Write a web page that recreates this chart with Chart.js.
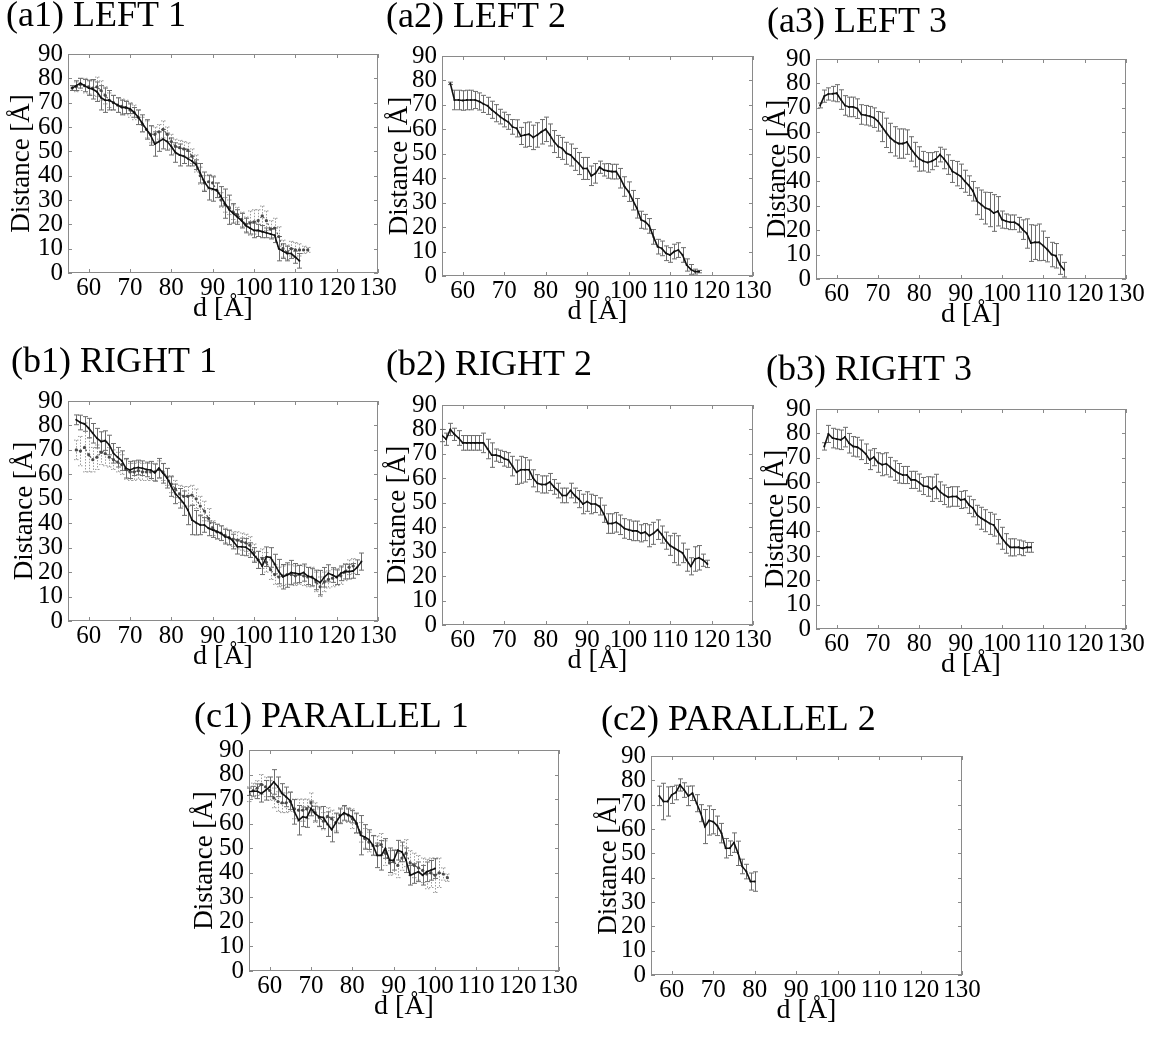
<!DOCTYPE html>
<html>
<head>
<meta charset="utf-8">
<script src="https://cdn.jsdelivr.net/npm/chart.js@4.4.1/dist/chart.umd.min.js"></script>
<style>
  body { margin: 0; background: #fff; }
  #page { position: relative; width: 1158px; height: 1037px; overflow: hidden; background: #fff; }
  #page canvas { position: absolute; }
</style>
</head>
<body>
<div id="page"></div>
<script>
// tick labels
const xTicks = [60, 70, 80, 90, 100, 110, 120, 130];
const yTicks = [0, 10, 20, 30, 40, 50, 60, 70, 80, 90];

// (a1) LEFT 1 - solid starts at d=56, dotted at d=56
const a1Solid = [76,77,78,77,76,75.5,74.5,72,71,71, 70,69,68,68,67.5,66,64,61.5,59,56.5, 53,54,55,54,52,49.5,48.5,48,47,46, 44.5,41,37.5,35,34.5,34,31.5,28.5,26,24.5, 23,21.5,19.5,18.5,17.5,17.5,17,16.5,16,15.5, 10,9,8,8,6.5,5];
const a1SolidErr = [1,2,2,2.5,3,4,4,5,5,4, 3,3,3,2.5,2,2,3,3.5,4,4, 5,4,4,3.5,3.5,4,4.5,3,3,2, 2,4,4,5,5,3,4,6,6,4, 3,3,3,2.5,3,2.5,2.5,2,2,3, 5,3,3,2,2.5,3];
const a1Dotted = [76,76.5,77.5,77,76.5,76,76.5,75,73,71, 70,69,68.5,68,67,66,64,61,59,57, 57,58,59,57,54,52,51.5,51,50.5,48, 45,40,37,37.5,37,34,30,28,27,25, 24,22,20,20.5,21,21.5,23.5,21.5,18,18.5, 15,10,8.5,10,9.5,9.5,9.5,9.5];
const a1DottedErr = [1,2,2.5,3,3,3,4,4,3.5,3, 3,3,3,3,3,3,3,3,3.5,3.5, 3,3,3.5,3,3,3,3,3,3,3, 3.5,3.5,3,3,3,3,3,3,3,3, 3,3,3,5,5,4.5,4,4,3.5,4, 4,3.5,3,3,3,2.5,1.5,1];

// (a2) LEFT 2 - starts at d=57
const a2Solid = [78.8,72,72,71.8,72,72,72,71.4,70.4,69.6, 68,66.6,65.2,64,63,61,60.4,57.3,57.7,58, 56.7,57.7,59,60,57.7,55,53,52.2,50.2,49.5, 47.7,46,44,44,41,42,44.5,43.4,43,42.7, 42.7,40,36.6,34.5,31,27.7,23,22.2,20.5,16, 12,11.3,9.3,8.6,10,10.6,8.6,4.5,2.7,1.8, 1.8];
const a2SolidErr = [0.5,4,4,4,4,4,3.5,3.5,3.5,3.5, 3.5,3.5,3,3,3,3,3.5,3.5,5,5, 5,5,5,5,4.5,4.5,4.5,4.5,4.5,4.5, 4.5,4.5,4.5,4.5,4,4,2.5,2.5,3,3, 3,4,4,4,4,4,3.5,3,3,3, 3,3,3,3,3,3,3,2.5,2,1,0.5];

// (a3) LEFT 3 - starts at d=56
const a3Solid = [71,74.8,75.7,75.8,76,73.4,71,70.4,70.4,69.7, 67.3,67,66.6,66,64.5,62.2,59.8,57.7,56.3,55.4, 55.4,56,53.2,50.9,49.1,48.2,47.7,48.2,49.1,50.9, 49.1,46.8,44,43.1,42,40,38.2,35.9,31.8,30.4, 29,28.4,27,27.7,24.3,23.6,23.2,23.2,22.2,20.2, 18.6,14.7,15,15,13.6,12,10,9.5,5.9,3.8];
const a3SolidErr = [1,2.5,2.5,3,3.5,4,4,4,4,4, 4,4,4,4,4,6,6,6,6,6, 6,5,5,5,5,4,4,3.5,3,3, 4,4,4.5,5,5,4.5,4,4,5.5,6, 6.5,7,7.5,6,3.5,3,3,3,3,4, 6,7.5,7,7.5,6,5,5,5,4,3];

// (b1) RIGHT 1 - solid starts at d=57, dotted at d=57
const b1Solid = [82.3,81.2,80.6,78.9,76.8,74.8,73.4,73.8,72,68.6, 67,65.6,62.5,61.8,62.5,62.8,62.5,62,61.8,60.7, 62.5,60.4,58.4,55,52,50.2,48.2,45.4,41.3,40.2, 39.3,39.3,37.9,37.2,36.6,35.9,34.5,34.2,32.5,30.4, 30.4,30.2,29,27,25,22.5,26.3,26,23.3,20.2, 18.1,18.8,19.8,19.5,19.2,19.8,18.4,17.9,16.8,15.7, 17.9,19.5,18.8,17.9,19.5,20.2,20.2,20.5,22,24.3];
const b1SolidErr = [2,3,3,4,4,4,4,4,4,4, 4,4,4,3.5,3,3,3,3,3.5,3.5, 4,4,4,4,4,4,5,6,6,5, 4,3,3,3,3,3,3,3,3,3, 3.5,3.5,3,3,3.5,3.5,4,4,4,5, 5,5,5,4,3.5,3.5,3.5,3.5,4,5, 4,3.5,3,3,3,3,3,3,3,3.5];
const b1Dotted = [70,69.5,71,68,66,67,69,68.5,67,66, 65,64,62,61,61,61.5,61,61,61,61, 62,61,59,56,54,52,51,51,51.5,50, 47,45,42,38,36.5,36,35,34,33.5,33, 32.5,32,31,28,25,25.5,24,21,19,18, 18.5,19,19,18.5,19,18.5,18,18,16,14, 16,17,17.5,18,18.5,20,22,22.5];
const b1DottedErr = [4,6,10,7,5,5,5,5,4,4, 4,4,4,3.5,3.5,3.5,3.5,3.5,3.5,3.5, 3.5,3.5,3.5,3.5,3.5,3.5,4,4,4,4, 4,4,4,3,3,3,3,3,3,3.5, 3.5,3.5,3.5,3.5,3.5,4,4,4,4,4, 4,4,4,4,4,4,4,4,4,4, 4,3.5,3.5,3.5,3.5,3.5,3,3];

// (b2) RIGHT 2 - starts at d=55
const b2Solid = [77.5,76,80,78,76.5,74.5,74.5,74.5,74.5,74.5, 74.5,72,69.5,69.5,69,68,67.5,65,62.5,63.5, 63.5,63.5,60,58,57.5,57.5,58.5,56.5,55,53, 53,55,53,51.5,49.5,50.5,49.5,49.5,48.5,45.5, 41.5,41.5,42,41,39.5,39,38.5,38.5,37.5,38, 36.5,37.5,39,37,34.5,32.5,31.5,30.5,29.5,26.5, 24,27,27.5,26.5,25];
const b2SolidErr = [2.5,2.5,2.5,2.5,3,3,3,3,3,3, 4,4,5,2.5,2.5,3,3,4,5,5.5, 5,4,3.5,3.5,3.5,3.5,3.5,3,3,3, 3,3,3,3.5,4,4,4,3.5,3.5,3.5, 4,4,4,4,4,4,4,4,3.5,3.5, 4.5,4.5,4,3.5,3.5,4,6,6,4,4.5, 3.5,5,5,2.5,1.5];

// (b3) RIGHT 3 - starts at d=57
const b3Solid = [74.7,79.8,78.1,77.7,77.4,78.5,76,74.7,74.4,73.3, 71.7,69.2,70.3,68.1,67.2,67.6,66.2,64.8,63.7,63, 63,61,61,59.9,58.5,58.3,57.2,58.3,56.2,54.9, 53.9,54.2,54.2,52.8,53.1,50.8,49.4,46.6,45.3,44.3, 43.2,42.5,39.8,37.1,35,33.4,33.4,33.4,33,33.4, 33.4];
const b3SolidErr = [1.5,3.5,4,4,4,4,4,4,4,4, 4,4,3.5,4,4.5,4.5,4,4,4,3.5, 3.5,3.5,3.5,3.5,3.5,4,5,5,4,4, 4,4,4,3.5,3.5,3.5,3.5,4,4.5,4.5, 4.5,4.5,5,4.5,4,3.5,3.5,3,3,2,2];

// (c1) PARALLEL 1 - solid starts at d=55, dotted at d=55
const c1Solid = [73,73.2,73.2,72.3,73.6,75,77,75,72.3,70.9, 69.3,64.8,61.4,62.8,62.5,66.2,64.1,62.8,62.5,59.8, 57.6,60.3,63,64.4,63.5,62.8,60.3,55.3,54.6,53.5, 51.2,47.1,47.1,49.9,45.1,45.1,49.2,48.5,45.1,39, 39.7,40.4,39,40.4,41,41.7];
const c1SolidErr = [1.5,2,3,3.5,4,4,5,4,4,4, 3.5,5,6,4,4,3,3,4,4.5,5, 5,4,3,3,2.5,2.5,4,8,5,4, 4,5,6,4,5,4,4,4,5,4, 4,4,4,4,4,4];
const c1Dotted = [72,73.5,74.5,76,75,73.5,70.5,69,68.5,68.5, 69,66,65.5,65.5,66,68.5,64.5,62.5,61,63, 62,60.5,63.5,64,63.5,62,60,56.5,54,52.5, 51,51,51.5,48,44,44.5,43,46,48,44, 43,42,41,39.5,40,39,40,39.5,38];
const c1DottedErr = [3,3,3,4,4,4,4,4,4,4, 4,4,4.5,4.5,4,4,4,3.5,3.5,3.5, 3.5,3.5,3,3,3,4,4,4,4,4, 4,4,4.5,5,5,5,5,5,5.5,5, 5,5,5,6,6,7,6,2.5,1.5];

// (c2) PARALLEL 2 - starts at d=57
const c2Solid = [73.6,71.3,71.3,74,75,78.1,76,73.6,74.7,70.6, 66.5,61,63.5,63,61.3,58.3,52.1,52.1,54.4,50, 44.6,42.5,38.4,38.4];
const c2SolidErr = [4,7.5,6,3.5,3,2.5,3,4,3,3.5, 3.5,7,6,5,4,4,4,3,4,5, 3,3,3.5,4];

const serif = "'Liberation Serif', 'Times New Roman', serif";
const titleSize = 36;

// panel layout: plot box [left, top, right, bottom], title x / middle, y-title centre
const panels = [
  { title: '(a1) LEFT 1', box: [68, 54, 378, 273], tx: 6, tmid: 17, ytc: 22,
    series: [{ d0: 56, v: a1Solid, e: a1SolidErr }, { d0: 56, v: a1Dotted, e: a1DottedErr, dotted: true }] },
  { title: '(a2) LEFT 2', box: [442, 56, 753, 276], tx: 386, tmid: 18, ytc: 400,
    series: [{ d0: 57, v: a2Solid, e: a2SolidErr }] },
  { title: '(a3) LEFT 3', box: [816, 59, 1126, 279], tx: 767, tmid: 23, ytc: 778,
    series: [{ d0: 56, v: a3Solid, e: a3SolidErr }] },
  { title: '(b1) RIGHT 1', box: [68, 401, 378, 621], tx: 11, tmid: 363, ytc: 25,
    series: [{ d0: 57, v: b1Solid, e: b1SolidErr }, { d0: 57, v: b1Dotted, e: b1DottedErr, dotted: true }] },
  { title: '(b2) RIGHT 2', box: [442, 405, 753, 625], tx: 386, tmid: 366, ytc: 398,
    series: [{ d0: 55, v: b2Solid, e: b2SolidErr }] },
  { title: '(b3) RIGHT 3', box: [816, 409, 1126, 629], tx: 766, tmid: 371, ytc: 776,
    series: [{ d0: 57, v: b3Solid, e: b3SolidErr }] },
  { title: '(c1) PARALLEL 1', box: [249, 750, 559, 971], tx: 194, tmid: 718, ytc: 205,
    series: [{ d0: 55, v: c1Solid, e: c1SolidErr }, { d0: 55, v: c1Dotted, e: c1DottedErr, dotted: true }] },
  { title: '(c2) PARALLEL 2', box: [651, 756, 962, 975], tx: 601, tmid: 721, ytc: 609,
    series: [{ d0: 57, v: c2Solid, e: c2SolidErr }] }
];

// error bars under the lines
const errorBars = {
  id: 'errorBars',
  beforeDatasetsDraw(chart) {
    const { ctx, scales: { x, y } } = chart;
    const sets = chart.data.datasets.slice().reverse();
    sets.forEach(ds => {
      ctx.save();
      ctx.strokeStyle = ds.errColor;
      ctx.lineWidth = 1;
      ctx.setLineDash(ds.errDash);
      ds.data.forEach((p, j) => {
        const e = ds.errors[j];
        const px = Math.round(x.getPixelForValue(p.x)) + 0.5;
        const hi = y.getPixelForValue(p.y + e);
        const lo = y.getPixelForValue(p.y - e);
        ctx.beginPath();
        ctx.moveTo(px, hi); ctx.lineTo(px, lo);
        ctx.moveTo(px - 2.5, hi); ctx.lineTo(px + 2.5, hi);
        ctx.moveTo(px - 2.5, lo); ctx.lineTo(px + 2.5, lo);
        ctx.stroke();
      });
      ctx.restore();
    });
  }
};

// plot frame with inward tick marks
const frame = {
  id: 'frame',
  beforeDatasetsDraw(chart) {
    const { ctx, chartArea: { left, right, top, bottom }, scales: { x, y } } = chart;
    ctx.save();
    ctx.strokeStyle = '#8a8a8a';
    ctx.lineWidth = 1;
    ctx.strokeRect(left + 0.5, top + 0.5, right - left - 1, bottom - top - 1);
    ctx.beginPath();
    xTicks.forEach(v => {
      const px = Math.round(x.getPixelForValue(v)) + 0.5;
      ctx.moveTo(px, bottom); ctx.lineTo(px, bottom - 4);
      ctx.moveTo(px, top); ctx.lineTo(px, top + 4);
    });
    yTicks.forEach(v => {
      const py = Math.round(y.getPixelForValue(v)) + 0.5;
      ctx.moveTo(left, py); ctx.lineTo(left + 4, py);
      ctx.moveTo(right, py); ctx.lineTo(right - 4, py);
    });
    ctx.stroke();
    ctx.restore();
  }
};

const page = document.getElementById('page');

panels.forEach(p => {
  const [L, T, R, B] = p.box;
  const left = Math.min(p.tx, p.ytc - 16);
  const padLeft = p.tx - left;
  const top = Math.round(p.tmid - titleSize / 2);
  const w = R - left + 26;
  const h = B - top + 58;

  const canvas = document.createElement('canvas');
  canvas.width = w;
  canvas.height = h;
  canvas.style.left = left + 'px';
  canvas.style.top = top + 'px';
  canvas.style.width = w + 'px';
  canvas.style.height = h + 'px';
  page.appendChild(canvas);

  const datasets = p.series.map(s => ({
    data: s.v.map((val, i) => ({ x: s.d0 + i, y: val })),
    errors: s.e,
    borderColor: s.dotted ? '#4a4a4a' : '#111',
    borderWidth: s.dotted ? 1.1 : 1.6,
    borderDash: s.dotted ? [2, 2] : [],
    pointRadius: s.dotted ? 1.6 : 1,
    pointBackgroundColor: s.dotted ? '#4a4a4a' : '#111',
    pointBorderWidth: 0,
    tension: 0,
    errColor: s.dotted ? '#9a9a9a' : '#6e6e6e',
    errDash: s.dotted ? [1.5, 1.5] : []
  }));

  new Chart(canvas, {
    type: 'line',
    data: { datasets },
    plugins: [frame, errorBars],
    options: {
      responsive: false,
      animation: false,
      events: [],
      layout: { padding: { left: padLeft, right: 26, top: 0, bottom: 0 } },
      plugins: {
        legend: { display: false },
        tooltip: { enabled: false },
        title: {
          display: true,
          text: p.title,
          align: 'start',
          color: '#000',
          font: { family: serif, size: titleSize, weight: 'normal', lineHeight: 1 },
          padding: { top: 0, bottom: T - top - titleSize }
        }
      },
      scales: {
        x: {
          type: 'linear',
          min: 55,
          max: 130,
          afterBuildTicks: s => { s.ticks = xTicks.map(v => ({ value: v })); },
          afterFit: s => { s.height = 58; },
          grid: { display: false, drawTicks: false },
          border: { display: false },
          ticks: { padding: 0, color: '#000', autoSkip: false, maxRotation: 0,
                   font: { family: serif, size: 25 } },
          title: { display: true, text: 'd [Å]', color: '#000',
                   font: { family: serif, size: 28, lineHeight: 1.2 },
                   padding: { top: 0, bottom: 6 } }
        },
        y: {
          min: 0,
          max: 90,
          afterBuildTicks: s => { s.ticks = yTicks.map(v => ({ value: v })); },
          afterFit: s => { s.width = L - p.tx; },
          grid: { display: false, drawTicks: false },
          border: { display: false },
          ticks: { padding: 5, color: '#000', autoSkip: false,
                   font: { family: serif, size: 25 } },
          title: { display: true, text: 'Distance [Å]', color: '#000',
                   font: { family: serif, size: 27, lineHeight: 0.6 },
                   padding: { top: p.ytc - p.tx - 8.1, bottom: 0 } }
        }
      }
    }
  });
});
</script>
</body>
</html>
